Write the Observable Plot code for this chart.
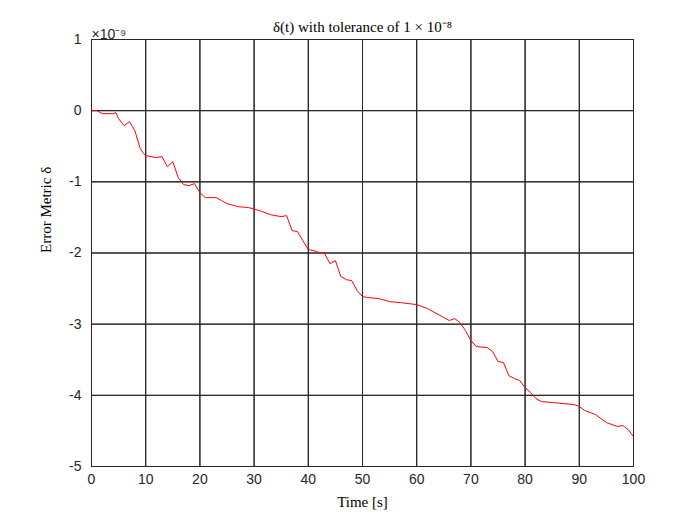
<!DOCTYPE html>
<html><head><meta charset="utf-8">
<script src="https://cdn.jsdelivr.net/npm/d3@7"></script>
<script src="https://cdn.jsdelivr.net/npm/@observablehq/plot@0.6"></script>
<style>body{margin:0;background:#fff}</style>
</head><body><div id="c"></div>
<script>
const times = [0,1,2,4,4.5,5,6,7,8,9,9.5,10,12,13,14,15,16,17,18,19,20,21,23,24,25,27,29,31,33,35,36,37,38,39,40,41,42,43,44,45,46,47,48,49,50,51,53,55,57,60,61,62,63,65,66,67,68,69,70,71,73,74,75,76,77,78,79,80,81,82,83,85,87,89,90,91,92,93,95,97,98,99,100];
const pixY = [110,110,113,113,112,118,125,121,130,148,152,155,157,156,166,161,177,184,185,183,192,197,197,200,203,206,207,210,214,216,215,230,231,240,249,250,252,253,263,260,276,279,280,290,296,297,298,301,302,304,306,308,311,317,320,318,322,330,340,346,347,351,361,362,375,378,380,387,392,398,401,402,403,404,406,410,412,414,422,426,425,429,436];
// error metric in units of 1e-9
const delta = pixY.map(p => +((110 - p) / 71.2).toFixed(3));
const xTicks = [0,10,20,30,40,50,60,70,80,90,100];
const yTicks = [-5,-4,-3,-2,-1,0,1];
const data = times.map((t,i)=>({t, d: delta[i]}));
const chart = Plot.plot({
  width:700, height:525,
  marginLeft:91, marginRight:67, marginTop:39, marginBottom:59,
  style:{fontFamily:"Liberation Sans, Arial, sans-serif", fontSize:"14px", color:"#262626"},
  x:{domain:[0,100], ticks:xTicks, label:null, tickSize:0, tickPadding:8, tickFormat:d=>String(d)},
  y:{domain:[-5,1], ticks:yTicks, label:null, tickSize:0, tickPadding:10, tickFormat:d=>String(d)},
  marks:[
    Plot.gridX(xTicks,{stroke:"#000", strokeOpacity:0.12}),
    Plot.gridY(yTicks,{stroke:"#000", strokeOpacity:0.12}),
    Plot.tickX(xTicks,{x:d=>d, y1:-5, y2:-4.93, stroke:"#262626"}),
    Plot.tickX(xTicks,{x:d=>d, y1:1, y2:0.93, stroke:"#262626"}),
    Plot.tickY(yTicks,{y:d=>d, x1:0, x2:0.93, stroke:"#262626"}),
    Plot.tickY(yTicks,{y:d=>d, x1:100, x2:99.07, stroke:"#262626"}),
    Plot.line(data,{x:"t", y:"d", stroke:"#ff0000", strokeWidth:1}),
    Plot.frame({stroke:"#262626"}),
    Plot.text(["δ(t) with tolerance of 1 × 10⁻⁸"],{frameAnchor:"top", dy:-18, fontFamily:"Liberation Serif, serif", fontSize:15, fill:"#000"}),
    Plot.text(["×10⁻⁹"],{frameAnchor:"top-left", dy:-10, dx:0, textAnchor:"start", fontSize:14, fill:"#262626"}),
    Plot.text(["Time [s]"],{frameAnchor:"bottom", dy:40, fontFamily:"Liberation Serif, serif", fontSize:15, fill:"#000"}),
    Plot.text(["Error Metric δ"],{frameAnchor:"left", dx:-45, rotate:-90, fontFamily:"Liberation Serif, serif", fontSize:15, fill:"#000"})
  ]
});
document.getElementById("c").append(chart);
</script></body></html>
